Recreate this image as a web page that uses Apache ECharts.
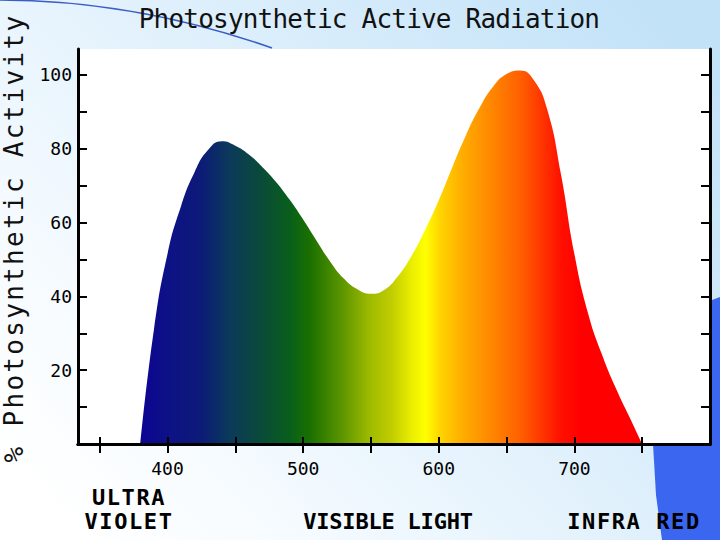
<!DOCTYPE html>
<html>
<head>
<meta charset="utf-8">
<script src="https://cdn.jsdelivr.net/npm/echarts@6/dist/echarts.min.js"></script>
<style>
  html, body { margin: 0; padding: 0; background: #fff; }
  #chart { width: 720px; height: 540px; }
  #chart svg text[style*="ttlfont"] { letter-spacing: -0.8px; }
  #chart svg text[style*="ynamefont"] { letter-spacing: 2.3px; }
  #chart svg text[style*="bandwide"] { letter-spacing: 1.6px; }
  #chart svg text[style*="bandtight"] { letter-spacing: -0.2px; }
</style>
</head>
<body>
<div id="chart"></div>
<script>
// ---- data ----
const wavelengths = [380, 390, 400, 410, 420, 430, 440, 450, 460, 470, 480, 490, 500,
  510, 520, 530, 540, 550, 560, 570, 580, 590, 600, 610, 620, 630, 640, 650, 660, 670, 680,
  690, 700, 710, 720, 730, 740, 750];
const activity = [0, 31, 51.5, 64.5, 73.7, 79.7, 82, 80.8, 78.4, 75.0, 71.0, 66.2, 60.8,
  55.0, 49.4, 44.8, 41.9, 40.7, 41.8, 45.5, 51, 58, 66, 75, 83.6, 91, 96.8, 100.2, 101.2, 98.6, 90.6,
  73.3, 51.5, 35.5, 24.6, 15.6, 7.8, 0];
const xTickValues = [350, 400, 450, 500, 550, 600, 650, 700, 750];
const xLabelValues = [400, 500, 600, 700];
const yTickValues = [10, 20, 30, 40, 50, 60, 70, 80, 90, 100];
const yLabelValues = [20, 40, 60, 80, 100];
const chartTitle = 'Photosynthetic Active Radiation';
const yAxisTitle = '% Photosynthetic Activity';
const bandUV = 'ULTRA\nVIOLET';
const bandVisible = 'VISIBLE LIGHT';
const bandIR = 'INFRA RED';

// ---- style ----
const spectrumStops = [
  [380, '#0c0494'], [400, '#0d1186'], [424, '#0c1a78'], [446, '#0b3a5a'], [469, '#0a4a3a'],
  [491, '#08601a'], [505, '#1a7000'], [528, '#5a9400'], [550, '#a0bc00'], [565, '#c0cc00'],
  [579, '#e8ec00'], [590, '#ffff00'], [601, '#ffd400'], [616, '#ffb000'], [638, '#ff8800'],
  [660, '#ff6000'], [675, '#ff3800'], [690, '#ff1000'], [705, '#ff0000'], [750, '#ff0000']
];
const wMin = wavelengths[0], wMax = wavelengths[wavelengths.length - 1];
const areaGradient = new echarts.graphic.LinearGradient(0, 0, 1, 0,
  spectrumStops.map(s => ({ offset: (s[0] - wMin) / (wMax - wMin), color: s[1] })));

const MONO = "'DejaVu Sans Mono', monospace";
const tickLabelStyle = { fontFamily: MONO, fontSize: 18, color: '#000' };
const axisLineStyle = { lineStyle: { color: '#000', width: 3 } };
const tickStyle = { color: '#000', width: 2 };

const chart = echarts.init(document.getElementById('chart'), null, { renderer: 'svg', width: 720, height: 540 });

const option = {
  animation: false,
  backgroundColor: 'transparent',
  grid: {
    left: 78, right: 10, top: 49, bottom: 96,
    show: true, backgroundColor: '#ffffff', borderWidth: 0,
    containLabel: false, outerBoundsMode: 'none'
  },
  xAxis: [
    {
      type: 'value', min: 334, max: 800, position: 'bottom', z: 5,
      axisLine: axisLineStyle,
      axisTick: { inside: false, length: 8, lineStyle: tickStyle, customValues: xTickValues },
      axisLabel: Object.assign({ margin: 15, customValues: xLabelValues }, tickLabelStyle),
      splitLine: { show: false }
    },
    {
      type: 'value', min: 334, max: 800, position: 'top', z: 5,
      axisLine: axisLineStyle,
      axisTick: { inside: true, length: 9, lineStyle: tickStyle, customValues: xTickValues },
      axisLabel: { show: false },
      splitLine: { show: false }
    },
    {
      type: 'value', min: 334, max: 800, position: 'bottom', z: 5,
      axisLine: { show: false },
      axisTick: { inside: true, length: 7, lineStyle: tickStyle, customValues: xTickValues },
      axisLabel: { show: false },
      splitLine: { show: false }
    }
  ],
  yAxis: [
    {
      type: 'value', min: 0, max: 107, position: 'left', z: 5,
      axisLine: axisLineStyle,
      axisTick: { inside: true, length: 9, lineStyle: tickStyle, customValues: yTickValues },
      axisLabel: Object.assign({ margin: 6, customValues: yLabelValues }, tickLabelStyle),
      splitLine: { show: false }
    },
    {
      type: 'value', min: 0, max: 107, position: 'right', z: 5,
      axisLine: axisLineStyle,
      axisTick: { inside: true, length: 9, lineStyle: tickStyle, customValues: yTickValues },
      axisLabel: { show: false },
      splitLine: { show: false }
    }
  ],
  series: [{
    type: 'line',
    xAxisIndex: 0, yAxisIndex: 0,
    data: wavelengths.map((w, i) => [w, activity[i]]),
    smooth: 0.5,
    symbol: 'none',
    lineStyle: { width: 0, opacity: 0 },
    areaStyle: { color: areaGradient, opacity: 1 },
    z: 2
  }],
  graphic: [
    {
      type: 'rect', z: -20, silent: true,
      shape: { x: 0, y: 0, width: 720, height: 540 },
      style: {
        fill: new echarts.graphic.LinearGradient(0, 0.85, 1, 0.15, [
          { offset: 0, color: '#ffffff' },
          { offset: 0.2, color: '#f6fbff' },
          { offset: 1, color: '#c2e2f8' }
        ])
      }
    },
    {
      type: 'polygon', z: -15, silent: true,
      shape: { points: [[720, 297], [712, 300], [690, 340], [668, 390], [653, 444], [656, 495], [662, 540], [720, 540]] },
      style: { fill: '#3a66f0' }
    },
    {
      type: 'bezierCurve', z: -15, silent: true,
      shape: { x1: -2, y1: 0, cpx1: 135, cpy1: 0, x2: 272, y2: 48 },
      style: { stroke: '#3a5fc4', lineWidth: 1.5, fill: null }
    },
    {
      type: 'text', z: 10, x: 369, y: 19,
      style: {
        text: chartTitle, font: "26px 'DejaVu Sans Mono', ttlfont", fill: '#111',
        align: 'center', textAlign: 'center', verticalAlign: 'middle', textVerticalAlign: 'middle'
      }
    },
    {
      type: 'text', z: 10, x: 14, y: 238, rotation: Math.PI / 2,
      style: {
        text: yAxisTitle, font: "26px 'DejaVu Sans Mono', ynamefont", fill: '#111',
        align: 'center', textAlign: 'center', verticalAlign: 'middle', textVerticalAlign: 'middle'
      }
    },
    {
      type: 'text', z: 10, x: 129, y: 509,
      style: {
        text: bandUV, font: "bold 22px 'DejaVu Sans Mono', bandwide", fill: '#000', lineHeight: 24,
        align: 'center', textAlign: 'center', verticalAlign: 'middle', textVerticalAlign: 'middle'
      }
    },
    {
      type: 'text', z: 10, x: 388, y: 521,
      style: {
        text: bandVisible, font: "bold 22px 'DejaVu Sans Mono', bandtight", fill: '#000',
        align: 'center', textAlign: 'center', verticalAlign: 'middle', textVerticalAlign: 'middle'
      }
    },
    {
      type: 'text', z: 10, x: 634, y: 521,
      style: {
        text: bandIR, font: "bold 22px 'DejaVu Sans Mono', bandwide", fill: '#000',
        align: 'center', textAlign: 'center', verticalAlign: 'middle', textVerticalAlign: 'middle'
      }
    }
  ]
};
chart.setOption(option);
</script>
</body>
</html>
